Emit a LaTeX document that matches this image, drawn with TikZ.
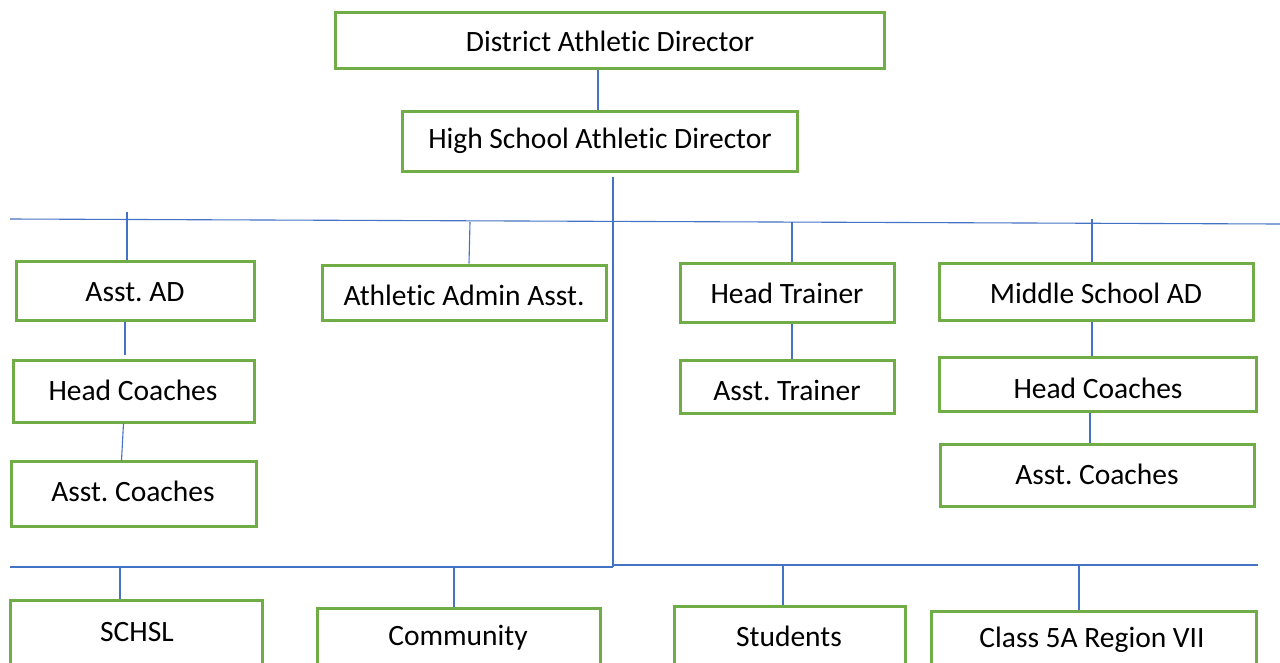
\documentclass[tikz,border=0pt]{standalone}
\usepackage{fontspec}
\setmainfont{Carlito}[Ligatures=NoCommon]
\frenchspacing
\definecolor{boxgreen}{HTML}{70AD47}
\definecolor{lineblue}{HTML}{4472C4}
\tikzset{
  orgbox/.style={draw=boxgreen, line width=3pt, fill=white, inner sep=0pt},
  lbl/.style={font=\fontsize{29.5}{34}\selectfont, text=black, inner sep=0pt},
  conn/.style={draw=lineblue, line width=1.1pt}
}
\begin{document}
\begin{tikzpicture}[x=1pt,y=-1pt]
\useasboundingbox (0,0) rectangle (1280,662);
\clip (0,0) rectangle (1280,662);
\fill[white] (0,0) rectangle (1280,662);
% connectors first
\coordinate (dadb) at (598,68);
\coordinate (trunkTop) at (613,177);
\coordinate (trunkBot) at (613,567);
\coordinate (HL) at (10,219);
\coordinate (HR) at (1280,224);
\coordinate (LL) at (10,567);
\coordinate (LR) at (1258,565);
\coordinate (RS) at (613,565);
\coordinate (d1) at (127,212);
\coordinate (d2) at (470,222);
\coordinate (d3) at (792,222);
\coordinate (d4) at (1092,219);
\coordinate (e1) at (120,566);
\coordinate (e2) at (454,567);
\coordinate (e3) at (783,565);
\coordinate (e4) at (1079,565);

\draw[conn] (HL) -- (HR);
\draw[conn] (trunkTop) -- (trunkBot);
\draw[conn] (LL) -- (trunkBot);
\draw[conn] (RS) -- (LR);

% boxes
\node[orgbox, minimum width=549pt, minimum height=56pt] (dad) at (609.5,40) {};
\node[orgbox, minimum width=395pt, minimum height=60pt] (hsad) at (599.5,141) {};
\node[orgbox, minimum width=238pt, minimum height=59pt] (asstad) at (135,290.5) {};
\node[orgbox, minimum width=284pt, minimum height=55pt] (admin) at (464,292.5) {};
\node[orgbox, minimum width=214pt, minimum height=59pt] (htrain) at (787,292.5) {};
\node[orgbox, minimum width=314pt, minimum height=57pt] (msad) at (1096,291.5) {};
\node[orgbox, minimum width=241pt, minimum height=62pt] (hcl) at (133.5,391) {};
\node[orgbox, minimum width=245pt, minimum height=65pt] (acl) at (133.5,493.5) {};
\node[orgbox, minimum width=214pt, minimum height=53pt] (atrain) at (787,386.5) {};
\node[orgbox, minimum width=317pt, minimum height=54pt] (hcr) at (1097.5,384) {};
\node[orgbox, minimum width=314pt, minimum height=62pt] (acr) at (1097,475) {};
\node[orgbox, minimum width=252pt, minimum height=100pt] (schsl) at (136,650) {};
\node[orgbox, minimum width=283pt, minimum height=100pt] (comm) at (458.5,658) {};
\node[orgbox, minimum width=231pt, minimum height=100pt] (stud) at (789.5,656) {};
\node[orgbox, minimum width=325pt, minimum height=100pt] (class) at (1093.5,661) {};

% labels
\node[lbl] (tdad) at (610,41) {District Athletic Director};
\node[lbl] (thsad) at (600,141) {High School Athletic Director};
\node[lbl] (tasstad) at (135,292) {Asst. AD};
\node[lbl] (tadmin) at (464,295) {Athletic Admin Asst.};
\node[lbl] (thtrain) at (787,293) {Head Trainer};
\node[lbl] (tmsad) at (1096,293) {Middle School AD};
\node[lbl] (thcl) at (133,390) {Head Coaches};
\node[lbl] (tacl) at (133,491) {Asst. Coaches};
\node[lbl] (tatrain) at (787,390) {Asst. Trainer};
\node[lbl] (thcr) at (1098,388) {Head Coaches};
\node[lbl] (tacr) at (1097,474) {Asst. Coaches};
\node[lbl] (tschsl) at (137,632) {SCHSL};
\node[lbl] (tcomm) at (458,638) {Community};
\node[lbl] (tstud) at (789,636) {Students};
\node[lbl] (tclass) at (1092,640) {Class 5A Region VII};

% vertical connectors
\draw[conn] (dad.south -| dadb) -- (hsad.north -| dadb);
\draw[conn] (d1) -- (d1 |- asstad.north);
\draw[conn] (d2) -- ([xshift=-1pt]d2 |- admin.north);
\draw[conn] (d3) -- (d3 |- htrain.north);
\draw[conn] (d4) -- (d4 |- msad.north);
\draw[conn] ([xshift=-10pt]asstad.south) -- ([xshift=-10pt,yshift=4pt]asstad.south |- hcl.north);
\draw[conn] ([xshift=-10pt]hcl.south) -- ([xshift=-12pt,yshift=-1pt]hcl.south |- acl.north);
\draw[conn] (htrain.south -| d3) -- (atrain.north -| d3);
\draw[conn] (msad.south -| d4) -- (hcr.north -| d4);
\draw[conn] ([xshift=-2pt]hcr.south -| d4) -- ([xshift=-2pt]acr.north -| d4);
\draw[conn] (e1) -- (e1 |- schsl.north);
\draw[conn] (e2) -- (e2 |- comm.north);
\draw[conn] (e3) -- (e3 |- stud.north);
\draw[conn] (e4) -- (e4 |- class.north);
\end{tikzpicture}
\end{document}
